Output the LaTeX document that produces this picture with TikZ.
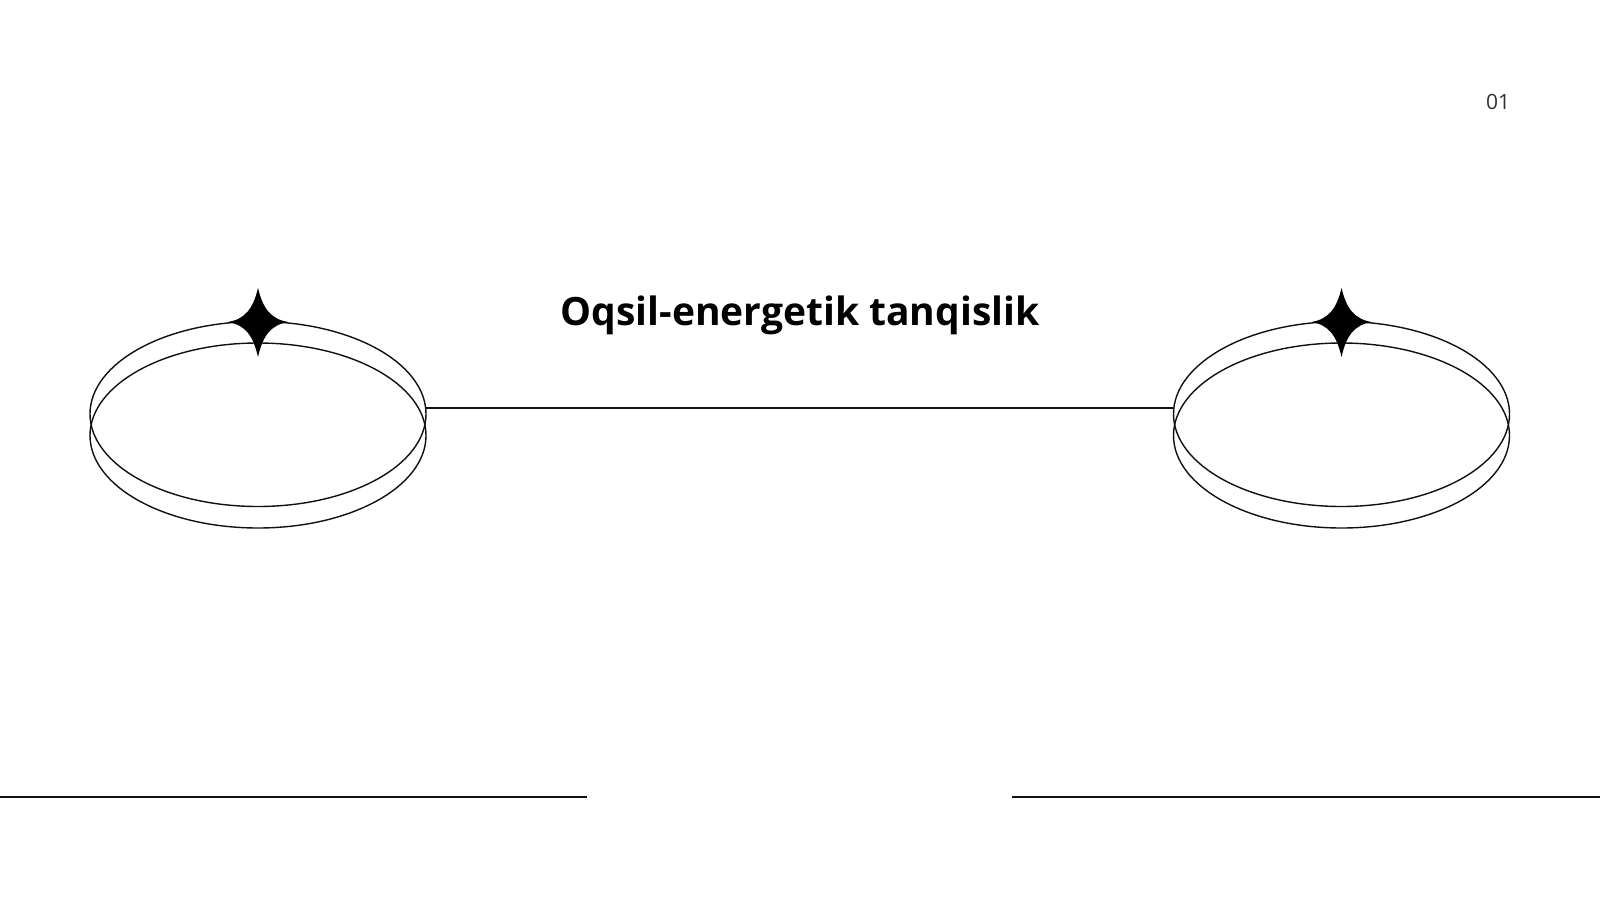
\documentclass[tikz,border=0pt]{standalone}
\usepackage{fontspec}
\setmainfont{Open Sans}
\usetikzlibrary{shapes.geometric}
\definecolor{ink}{HTML}{111111}
\definecolor{numgray}{HTML}{333333}
\tikzset{
  ring/.style={draw=ink, line width=1.4pt, ellipse, minimum width=336pt, minimum height=185pt, inner sep=0pt},
  link/.style={draw=ink, line width=1.4pt},
  sparkle/.style={fill=black, draw=none},
  titletext/.style={font=\fontsize{39}{44}\selectfont\bfseries, text=black, anchor=base},
  pagenum/.style={font=\fontsize{21}{24}\selectfont, text=numgray}
}
\newcommand{\sparkshape}[2]{%
  \fill[sparkle] (#1,#2-34) .. controls (#1+5,#2-13) and (#1+13,#2-3) .. (#1+30,#2)
    .. controls (#1+13,#2+3) and (#1+5,#2+13) .. (#1,#2+35)
    .. controls (#1-5,#2+13) and (#1-13,#2+3) .. (#1-30,#2)
    .. controls (#1-13,#2-3) and (#1-5,#2-13) .. (#1,#2-34) -- cycle;}
\begin{document}
\begin{tikzpicture}[x=1pt, y=-1pt]
\useasboundingbox (0,0) rectangle (1600,900);
\fill[white] (0,0) rectangle (1600,900);
% left ring
\node[ring] (L1) at (258,414) {};
\node[ring] (L2) at (258,435.5) {};
% right ring
\node[ring] (R1) at (1341.5,414) {};
\node[ring] (R2) at (1341.5,435.5) {};
% sparkles
\sparkshape{258}{322}
\sparkshape{1341.5}{322}
% connector
\draw[link] (L1.2) -- (R1.178);
% title
\node[titletext] (title) at (800,325) {Oqsil-energetik tanqislik};
% page number
\node[pagenum] (num) at (1498,102) {01};
% bottom lines
\coordinate (bl0) at (0,797);
\coordinate (bl1) at (587,797);
\coordinate (br0) at (1012,797);
\coordinate (br1) at (1600,797);
\draw[link] (bl0) -- (bl1);
\draw[link] (br0) -- (br1);
\end{tikzpicture}
\end{document}
